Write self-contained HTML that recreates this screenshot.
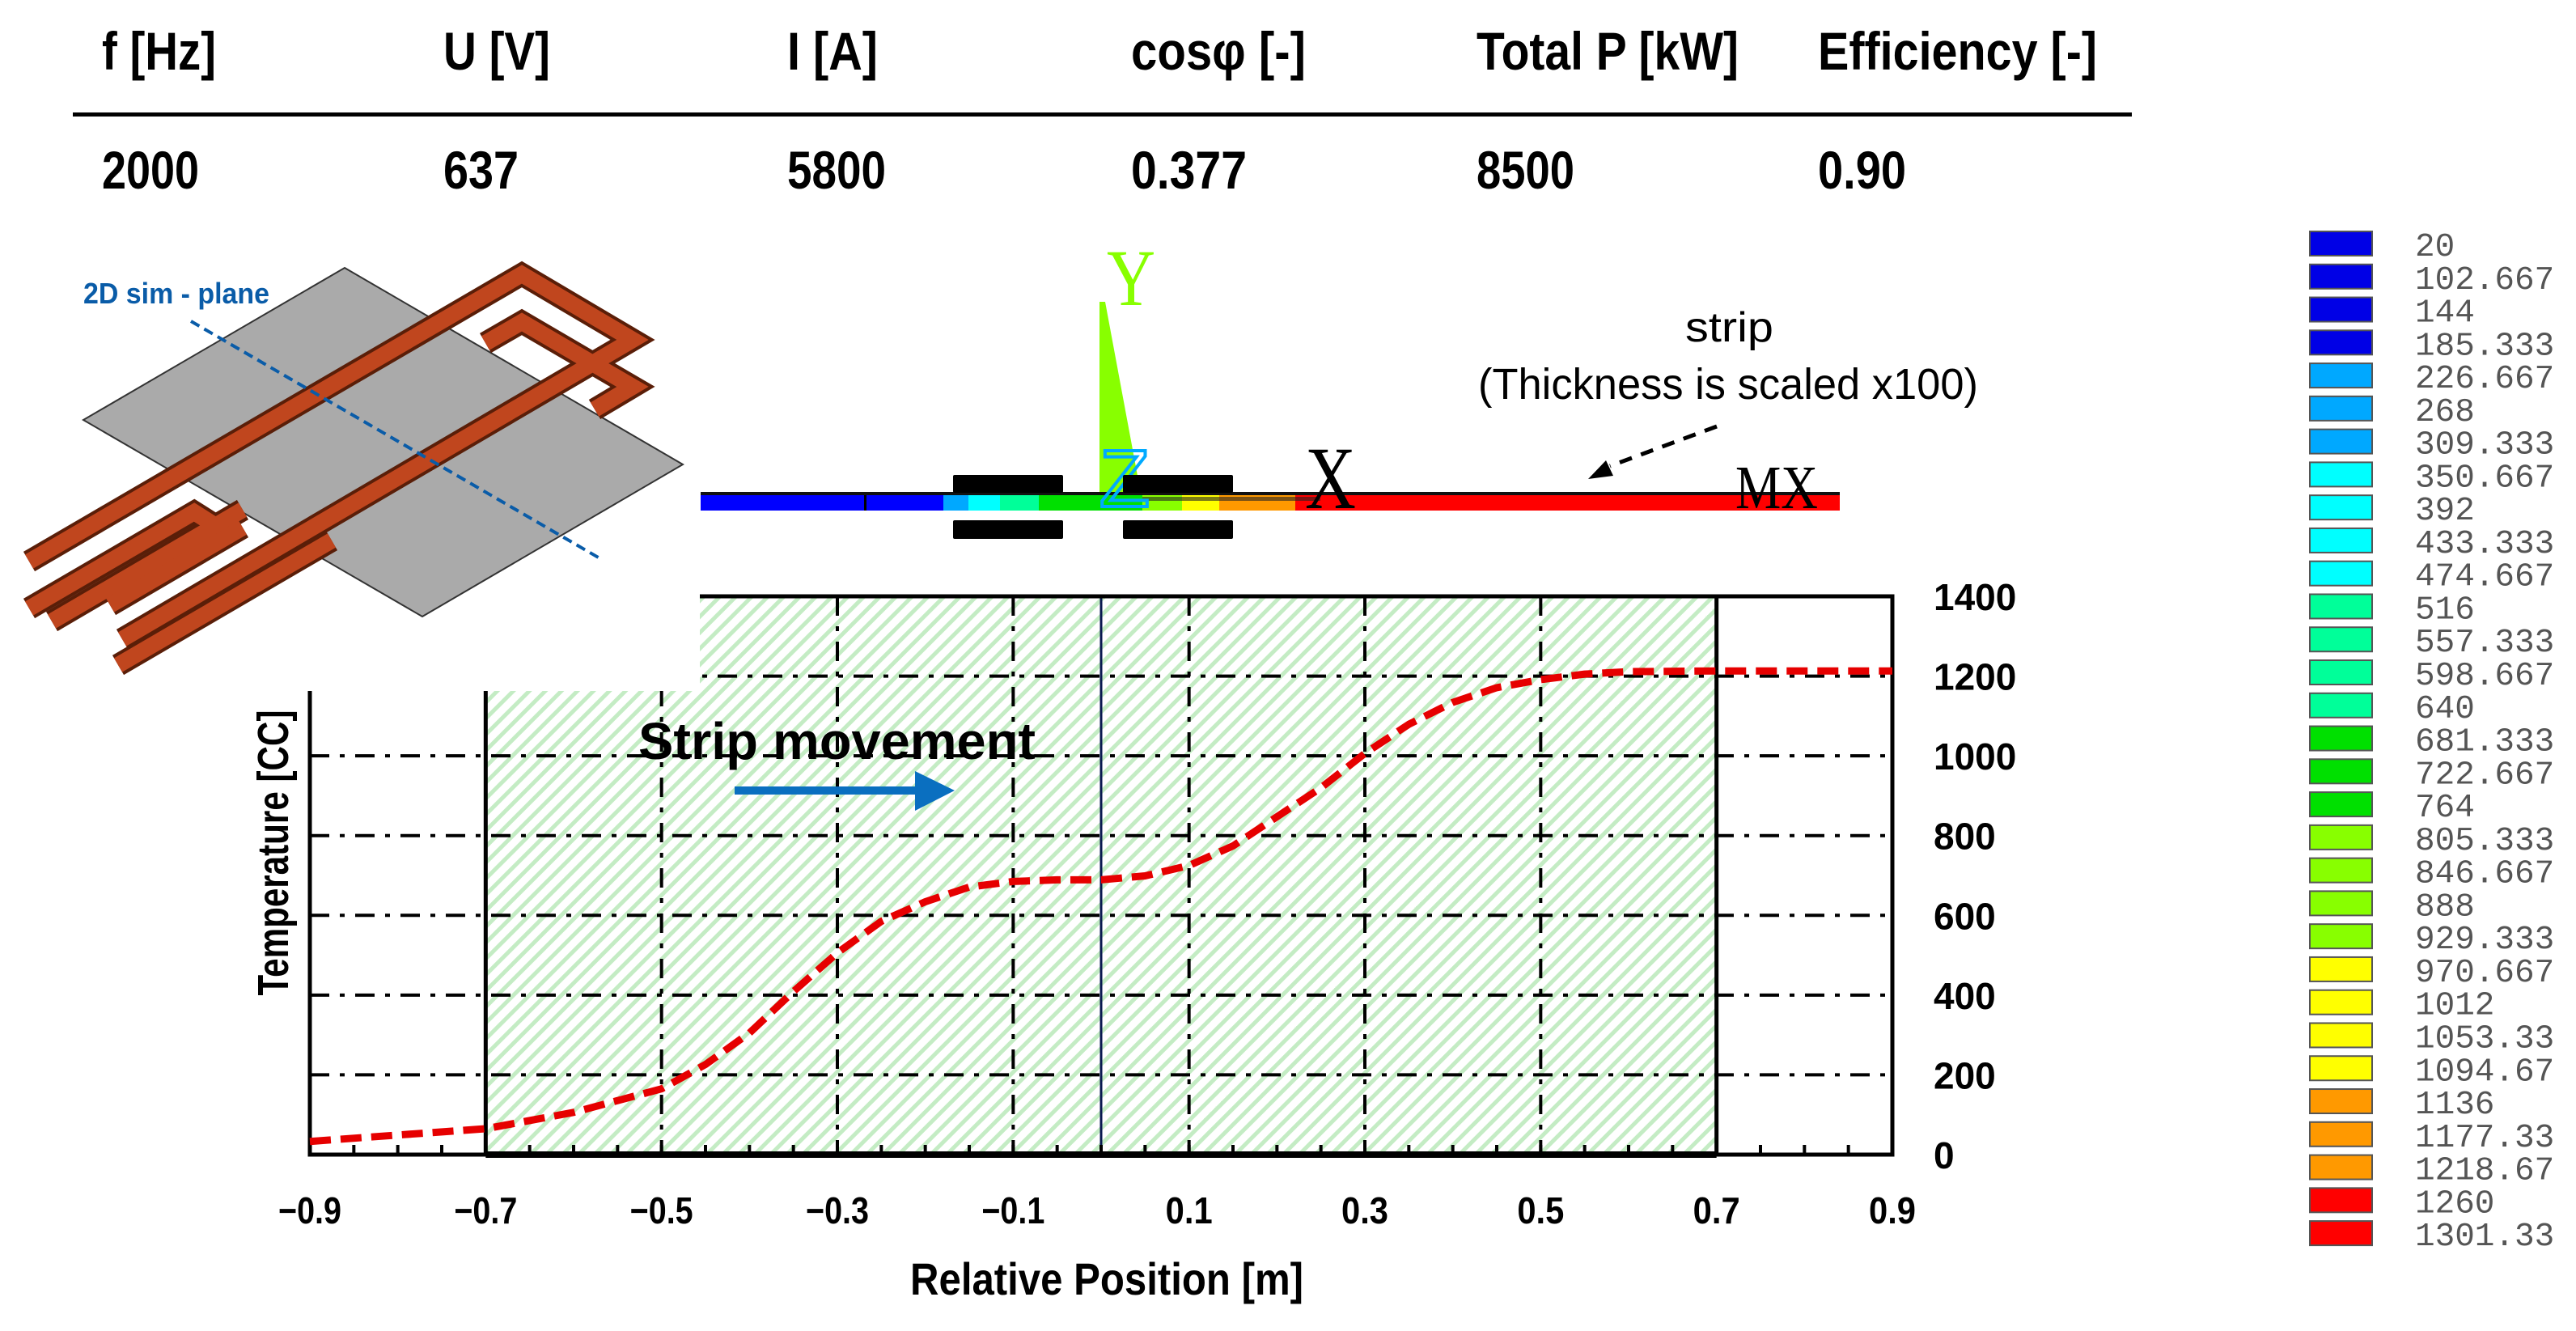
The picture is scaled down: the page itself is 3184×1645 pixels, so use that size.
<!DOCTYPE html>
<html><head><meta charset="utf-8"><style>
html,body{margin:0;padding:0;background:#fff;}
svg{display:block;}
</style></head><body>
<svg id="fig" width="3184" height="1645" viewBox="0 0 3184 1645" xmlns="http://www.w3.org/2000/svg">
<defs>
<pattern id="hatch" patternUnits="userSpaceOnUse" width="14" height="14" patternTransform="rotate(45)">
<rect width="14" height="14" fill="#ffffff"/>
<rect x="0" y="0" width="5" height="14" fill="#c4ecc4"/>
</pattern>
</defs>

<g font-family="Liberation Sans, sans-serif" font-weight="bold" font-size="66" fill="#000">
<text x="126" y="86" textLength="141" lengthAdjust="spacingAndGlyphs">f [Hz]</text>
<text x="548" y="86" textLength="132" lengthAdjust="spacingAndGlyphs">U [V]</text>
<text x="973" y="86" textLength="112" lengthAdjust="spacingAndGlyphs">I [A]</text>
<text x="1398" y="86" textLength="216" lengthAdjust="spacingAndGlyphs">cosφ [-]</text>
<text x="1825" y="86" textLength="324" lengthAdjust="spacingAndGlyphs">Total P [kW]</text>
<text x="2247" y="86" textLength="345" lengthAdjust="spacingAndGlyphs">Efficiency [-]</text>
<rect x="90" y="139" width="2545" height="5" fill="#000"/>
<text x="126" y="233" textLength="120" lengthAdjust="spacingAndGlyphs">2000</text>
<text x="548" y="233" textLength="93" lengthAdjust="spacingAndGlyphs">637</text>
<text x="973" y="233" textLength="122" lengthAdjust="spacingAndGlyphs">5800</text>
<text x="1398" y="233" textLength="143" lengthAdjust="spacingAndGlyphs">0.377</text>
<text x="1825" y="233" textLength="121" lengthAdjust="spacingAndGlyphs">8500</text>
<text x="2247" y="233" textLength="109" lengthAdjust="spacingAndGlyphs">0.90</text>
</g>

<g id="chart"></g>

<rect x="0" y="250" width="865" height="604" fill="#fff"/>

<g>
<polygon points="426,331 844,574 522,762 103,519" fill="#aaaaaa" stroke="#333" stroke-width="2"/>
<g fill="none" stroke-linejoin="miter" stroke-linecap="butt">
<g stroke="#5a1e08" stroke-width="28">
<polyline points="36,694 645,339 782,420 151,790"/>
<polyline points="600,424 645,398 782,478 735,506"/>
<polyline points="36,752 240,633 270,652 220,682"/>
<polyline points="64,768 300,630"/>
<polyline points="136,748 300,652"/>
<polyline points="146,822 410,668"/>
</g>
<g stroke="#c0461e" stroke-width="20">
<polyline points="36,694 645,339 782,420 151,790"/>
<polyline points="600,424 645,398 782,478 735,506"/>
<polyline points="36,752 240,633 270,652 220,682"/>
<polyline points="64,768 300,630"/>
<polyline points="136,748 300,652"/>
<polyline points="146,822 410,668"/>
</g>
</g>
<line x1="236" y1="397" x2="743" y2="691" stroke="#0a5ca8" stroke-width="4" stroke-dasharray="12,7"/>
<text x="103" y="375" font-family="Liberation Sans, sans-serif" font-weight="bold" font-size="36" fill="#0a5ca8" textLength="230" lengthAdjust="spacingAndGlyphs">2D sim - plane</text>
</g>

<g>
<polygon points="1359,373 1366,373 1412,620 1359,626" fill="#88ff00"/>
<text x="1368" y="377" font-family="Liberation Serif, serif" font-size="100" fill="#88ff00" textLength="60" lengthAdjust="spacingAndGlyphs">Y</text>
<rect x="866" y="611" width="300" height="20" fill="#0000ff"/>
<rect x="1068" y="611" width="3" height="20" fill="#000"/>
<rect x="1166" y="611" width="31" height="20" fill="#00a8ff"/>
<rect x="1197" y="611" width="39" height="20" fill="#00ffff"/>
<rect x="1236" y="611" width="48" height="20" fill="#00ff99"/>
<rect x="1284" y="611" width="128" height="20" fill="#00e000"/>
<rect x="1412" y="611" width="49" height="20" fill="#88ff00"/>
<rect x="1461" y="611" width="46" height="20" fill="#ffff00"/>
<rect x="1507" y="611" width="94" height="20" fill="#ff9900"/>
<rect x="1601" y="611" width="673" height="20" fill="#ff0000"/>
<rect x="866" y="608" width="1408" height="4" fill="#111"/>
<rect x="1412" y="614" width="220" height="5" fill="#222" opacity="0.6"/>
<text x="1359" y="626" font-family="Liberation Sans, sans-serif" font-size="100" fill="none" stroke="#00aaff" stroke-width="4" textLength="62" lengthAdjust="spacingAndGlyphs">Z</text>
<rect x="1178" y="587" width="136" height="22" rx="2" fill="#000"/>
<rect x="1388" y="587" width="136" height="22" rx="2" fill="#000"/>
<rect x="1178" y="643" width="136" height="23" rx="2" fill="#000"/>
<rect x="1388" y="643" width="136" height="23" rx="2" fill="#000"/>
<text x="1613" y="628" font-family="Liberation Serif, serif" font-size="110" fill="#000" textLength="63" lengthAdjust="spacingAndGlyphs">X</text>
<text x="2145" y="628" font-family="Liberation Serif, serif" font-size="76" fill="#000" textLength="102" lengthAdjust="spacingAndGlyphs">MX</text>
<text x="2083" y="422" font-family="Liberation Sans, sans-serif" font-size="52" fill="#000" textLength="109" lengthAdjust="spacingAndGlyphs">strip</text>
<text x="1827" y="493" font-family="Liberation Sans, sans-serif" font-size="54" fill="#000" textLength="618" lengthAdjust="spacingAndGlyphs">(Thickness is scaled x100)</text>
<line x1="2122" y1="527" x2="1990" y2="576" stroke="#000" stroke-width="5" stroke-dasharray="16,12"/>
<polygon points="1963,592 1985,569 1994,588" fill="#000"/>
</g>

<g id="legend"></g>

<script>
const xTicks = [-0.9, -0.7, -0.5, -0.3, -0.1, 0.1, 0.3, 0.5, 0.7, 0.9];
const xTickLabels = ["\u22120.9", "\u22120.7", "\u22120.5", "\u22120.3", "\u22120.1", "0.1", "0.3", "0.5", "0.7", "0.9"];
const yTicks = [0, 200, 400, 600, 800, 1000, 1200, 1400];
const positions = [-0.9, -0.8, -0.7, -0.6, -0.5, -0.45, -0.4, -0.35, -0.3, -0.25, -0.2, -0.15, -0.1, -0.05, 0, 0.05, 0.1, 0.15, 0.2, 0.25, 0.3, 0.35, 0.4, 0.45, 0.5, 0.55, 0.6, 0.7, 0.8, 0.9];
const temperatures = [33, 49, 65, 106, 165, 226, 305, 409, 506, 585, 634, 671, 685, 689, 689, 699, 725, 774, 847, 920, 1006, 1079, 1134, 1171, 1191, 1205, 1211, 1213, 1213, 1213];
const inductorRange = [-0.7, 0.7];
const legendLabels = ["20","102.667","144","185.333","226.667","268","309.333","350.667","392","433.333","474.667","516","557.333","598.667","640","681.333","722.667","764","805.333","846.667","888","929.333","970.667","1012","1053.33","1094.67","1136","1177.33","1218.67","1260","1301.33"];
const legendColors = ["#0000e6","#0000e6","#0000e6","#0000e6","#00a8ff","#00a8ff","#00a8ff","#00ffff","#00ffff","#00ffff","#00ffff","#00ff99","#00ff99","#00ff99","#00ff99","#00e000","#00e000","#00e000","#88ff00","#88ff00","#88ff00","#88ff00","#ffff00","#ffff00","#ffff00","#ffff00","#ff9900","#ff9900","#ff9900","#ff0000","#ff0000"];

const NS = "http://www.w3.org/2000/svg";
const X0 = 383, X1 = 2339, Y0 = 1427, Y1 = 737;
const xs = v => X0 + (v + 0.9) / 1.8 * (X1 - X0);
const ys = v => Y0 - v / 1400 * (Y0 - Y1);
function mk(tag, attrs, parent) {
  const e = document.createElementNS(NS, tag);
  for (const k in attrs) e.setAttribute(k, attrs[k]);
  parent.appendChild(e);
  return e;
}
const chart = document.getElementById("chart");

const hatch = mk("rect", {x: xs(inductorRange[0]), y: Y1, width: xs(inductorRange[1]) - xs(inductorRange[0]), height: Y0 - Y1, fill: "url(#hatch)"}, chart);



yTicks.forEach(t => {
  if (t === 0 || t === 1400) return;
  const g = mk("line", {x1: X0, x2: X1, y1: ys(t), y2: ys(t), stroke: "#000", "stroke-width": 4, "stroke-dasharray": "24,13,6,13"}, chart);
  
  
});
xTicks.forEach(t => {
  if (Math.abs(t) > 0.8 || Math.abs(Math.abs(t) - 0.7) < 1e-6) return;
  const g = mk("line", {x1: xs(t), x2: xs(t), y1: Y1, y2: Y0, stroke: "#000", "stroke-width": 4, "stroke-dasharray": "24,13,6,13"}, chart);
  
  
});
inductorRange.forEach(t => {
  const b = mk("line", {x1: xs(t), x2: xs(t), y1: Y1, y2: Y0, stroke: "#000", "stroke-width": 5}, chart);
  
  
});
const c0 = mk("line", {x1: xs(0), x2: xs(0), y1: Y1, y2: Y0, stroke: "#0a1a50", "stroke-width": 3}, chart);



const fr = mk("path", {d: `M${X0},${Y1} V${Y0} H${X1} V${Y1} H${X0}`, fill: "none", stroke: "#000", "stroke-width": 5}, chart);


const bt = mk("line", {x1: xs(inductorRange[0]), x2: xs(inductorRange[1]), y1: Y0, y2: Y0, stroke: "#000", "stroke-width": 8}, chart);



for (let i = 0; i <= 36; i++) {
  const v = -0.9 + i * 0.05;
  const tk = mk("line", {x1: xs(v), x2: xs(v), y1: Y0, y2: Y0 - 12, stroke: "#000", "stroke-width": 4}, chart);
  
  
}

const d = positions.map((p, i) => (i ? "L" : "M") + xs(p).toFixed(1) + "," + ys(temperatures[i]).toFixed(1)).join(" ");
const curve = mk("path", {d: d, fill: "none", stroke: "#e60000", "stroke-width": 9, "stroke-dasharray": "26,12", "stroke-linejoin": "round"}, chart);



xTicks.forEach((t, i) => {
  const l = mk("text", {x: xs(t), y: 1512, "text-anchor": "middle", "font-family": "Liberation Sans, sans-serif", "font-weight": "bold", "font-size": 46, textLength: xTickLabels[i].length > 3 ? 78 : 58, lengthAdjust: "spacingAndGlyphs"}, chart);
  l.textContent = xTickLabels[i];
  
  
});
yTicks.forEach(t => {
  const l = mk("text", {x: 2390, y: ys(t) + 17, "font-family": "Liberation Sans, sans-serif", "font-weight": "bold", "font-size": 46}, chart);
  l.textContent = String(t);
  
  
});

const xt = mk("text", {x: 1368, y: 1600, "text-anchor": "middle", "font-family": "Liberation Sans, sans-serif", "font-weight": "bold", "font-size": 56, textLength: 486, lengthAdjust: "spacingAndGlyphs"}, chart);
xt.textContent = "Relative Position [m]";


const yt = mk("text", {x: 0, y: 0, "text-anchor": "middle", "font-family": "Liberation Sans, sans-serif", "font-weight": "bold", "font-size": 54, textLength: 353, lengthAdjust: "spacingAndGlyphs", transform: "translate(356,1054) rotate(-90)"}, chart);
yt.textContent = "Temperature [CC]";



const sm = mk("text", {x: 789, y: 938, "font-family": "Liberation Sans, sans-serif", "font-weight": "bold", "font-size": 64, textLength: 491, lengthAdjust: "spacingAndGlyphs"}, chart);
sm.textContent = "Strip movement";


const ar = mk("path", {d: "M908,972 H1131 V953 L1180,977 L1131,1002 V982 H908 Z", fill: "#0a6fc0"}, chart);



const lg = document.getElementById("legend");
legendLabels.forEach((lab, i) => {
  const y = 286 + i * 40.77;
  const r = mk("rect", {x: 2855, y: y, width: 77, height: 30, fill: legendColors[i], stroke: "#555", "stroke-width": 2}, lg);
  
  
  const t = mk("text", {x: 2985, y: y + 30, "font-family": "Liberation Mono, monospace", "font-size": 41, fill: "#555"}, lg);
  t.textContent = lab;
  
  
});
</script>
</svg>
</body></html>
